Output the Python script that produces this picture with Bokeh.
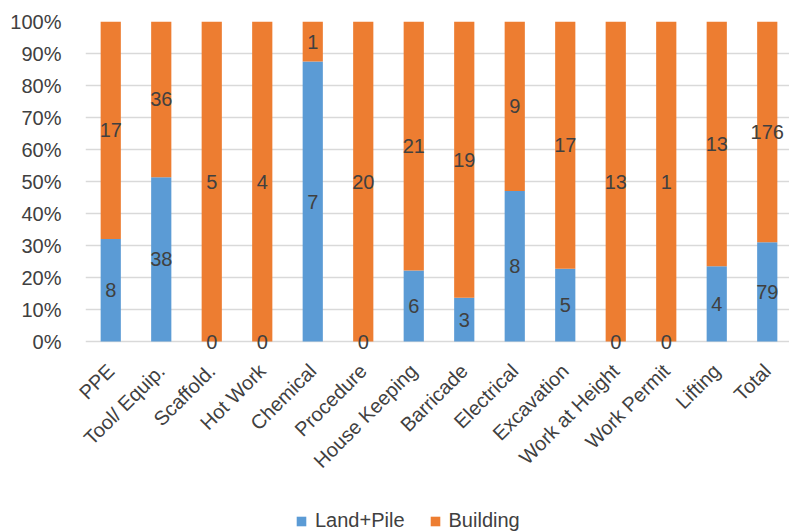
import numpy as np
from bokeh.plotting import figure
from bokeh.layouts import column
from bokeh.models import (Range1d, FixedTicker, NumeralTickFormatter, Legend, LegendItem,
                          ColumnDataSource, LabelSet)
from bokeh.core.properties import value
from bokeh.embed import file_html
from bokeh.resources import INLINE

categories = ["PPE", "Tool/ Equip.", "Scaffold.", "Hot Work", "Chemical", "Procedure",
              "House Keeping", "Barricade", "Electrical", "Excavation", "Work at Height",
              "Work Permit", "Lifting", "Total"]
land_pile = [8, 38, 0, 0, 7, 0, 6, 3, 8, 5, 0, 0, 4, 79]
building = [17, 36, 5, 4, 1, 20, 21, 19, 9, 17, 13, 1, 13, 176]
series_names = ["Land+Pile", "Building"]
y_ticks = [i / 10 for i in range(11)]

BLUE = "#5B9BD5"
ORANGE = "#ED7D31"
FONT = "Liberation Sans"
FS = "20px"
TXT = "#404040"

lp = np.array(land_pile, dtype=float)
bd = np.array(building, dtype=float)
tot = lp + bd
lp_pct = lp / tot
bd_pct = bd / tot
xs = np.arange(len(categories)) + 0.5

src = ColumnDataSource(dict(
    x=xs, lp=lp_pct, bd=bd_pct,
    lp_y=lp_pct / 2, bd_y=lp_pct + bd_pct / 2,
    lp_t=[str(v) for v in land_pile], bd_t=[str(v) for v in building],
))

W, H = 789, 532
LEG_H = 34
MAIN_H = H - LEG_H
LEFT, TOP, ZERO_Y = 85, 21, 341
PX_PER_UNIT = ZERO_Y - TOP
FRAME_BOTTOM = ZERO_Y + 13
p = figure(width=W, height=MAIN_H, output_backend="svg", toolbar_location=None,
           x_range=Range1d(0, (W - LEFT) / 50.5),
           y_range=Range1d(-(FRAME_BOTTOM - ZERO_Y) / PX_PER_UNIT, 1),
           min_border_left=LEFT, min_border_right=0, min_border_top=TOP,
           min_border_bottom=MAIN_H - FRAME_BOTTOM)
p.outline_line_color = None

p.ygrid.ticker = FixedTicker(ticks=y_ticks)
p.ygrid.grid_line_color = "#D9D9D9"
p.ygrid.grid_line_width = 1.5
p.xgrid.grid_line_color = None

rs = p.vbar_stack(["lp", "bd"], x="x", width=0.4, source=src, color=[BLUE, ORANGE],
                  line_color=None)

for ycol, tcol in (("lp_y", "lp_t"), ("bd_y", "bd_t")):
    p.add_layout(LabelSet(x="x", y=ycol, text=tcol, source=src, text_align="center",
                          text_baseline="middle", text_font=value(FONT), text_font_size=value(FS),
                          text_color=value(TXT)))

# axes
p.xaxis.ticker = FixedTicker(ticks=list(xs))
p.xaxis.major_label_overrides = {float(x): c for x, c in zip(xs, categories)}
p.xaxis.major_label_orientation = np.pi / 4
p.xaxis.axis_line_color = None
p.xaxis.major_tick_line_color = None
p.xaxis.minor_tick_line_color = None
p.xaxis.major_label_standoff = 7
p.xaxis.major_label_text_font = FONT
p.xaxis.major_label_text_font_size = FS
p.xaxis.major_label_text_color = TXT

p.yaxis.ticker = FixedTicker(ticks=y_ticks)
p.yaxis.formatter = NumeralTickFormatter(format="0%")
p.yaxis.axis_line_color = None
p.yaxis.major_tick_line_color = None
p.yaxis.minor_tick_line_color = None
p.yaxis.major_label_standoff = 18
p.yaxis.major_label_text_font = FONT
p.yaxis.major_label_text_font_size = FS
p.yaxis.major_label_text_color = TXT

# legend strip (frame aligned with the main plot's frame);
# swatches come from proxy bar renderers that lie outside the visible range
LEG_X = 295
lg = figure(width=W, height=LEG_H, output_backend="svg", toolbar_location=None,
            x_axis_type=None, y_axis_type=None, x_range=Range1d(0, 1), y_range=Range1d(0, 1),
            min_border_left=LEFT, min_border_right=0, min_border_top=0, min_border_bottom=0)
lg.outline_line_color = None
lg.grid.visible = False
proxy = ColumnDataSource(dict(x=[-5.0], top=[-5.0]))
d0 = lg.vbar(x="x", top="top", width=0.5, source=proxy, fill_color=BLUE, line_color=None)
d1 = lg.vbar(x="x", top="top", width=0.5, source=proxy, fill_color=ORANGE, line_color=None)
legend = Legend(items=[LegendItem(label=series_names[0], renderers=[d0]),
                       LegendItem(label=series_names[1], renderers=[d1])],
                orientation="horizontal", location=(LEG_X - LEFT, 0),
                label_text_font=FONT, label_text_font_size=FS, label_text_color=TXT,
                glyph_width=12, glyph_height=12, spacing=24, padding=0, margin=0,
                border_line_color=None, background_fill_alpha=0, label_standoff=8)
lg.add_layout(legend, "center")

layout = column(p, lg, spacing=0)
open("out.html", "w").write(file_html(layout, INLINE))
